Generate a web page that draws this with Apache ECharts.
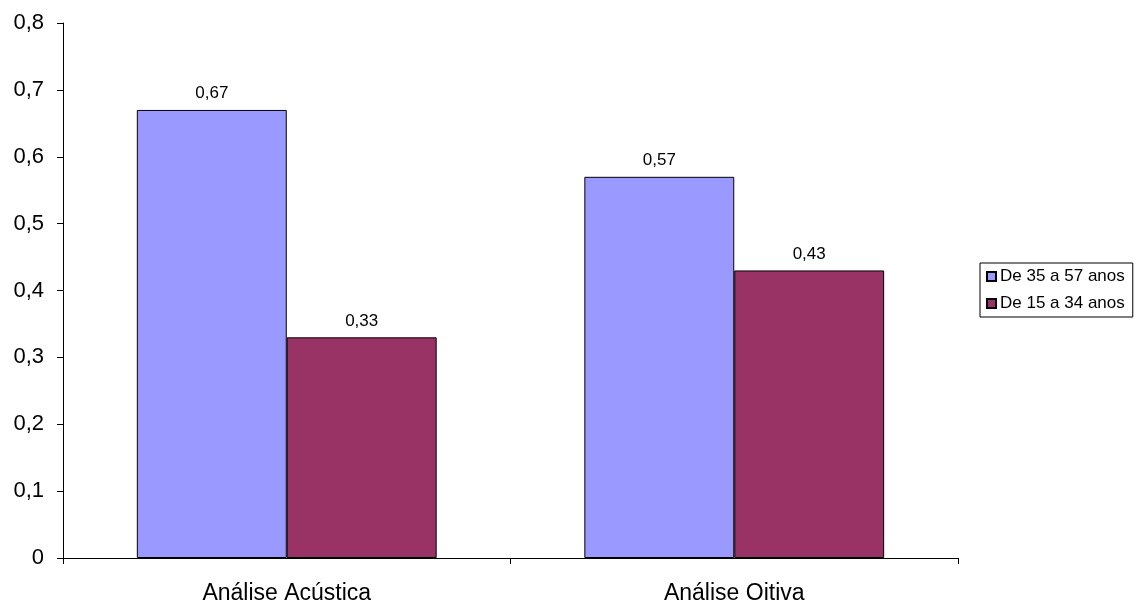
<!DOCTYPE html>
<html>
<head>
<meta charset="utf-8">
<script src="https://cdn.jsdelivr.net/npm/echarts@6/dist/echarts.min.js"></script>
<style>
  html, body { margin: 0; padding: 0; background: #ffffff; }
  #chart { width: 1142px; height: 606px; }
</style>
</head>
<body>
<div id="chart"></div>
<script>
// Categories and series values
const categories = ['Análise Acústica', 'Análise Oitiva'];
const seriesNames = ['De 35 a 57 anos', 'De 15 a 34 anos'];
const olderGroup = [0.67, 0.57];
const youngerGroup = [0.33, 0.43];
const yTicks = [0, 0.1, 0.2, 0.3, 0.4, 0.5, 0.6, 0.7, 0.8];

const fontFamily = '"Liberation Sans", Arial, sans-serif';
const fmt = v => String(v).replace('.', ',');

const chart = echarts.init(document.getElementById('chart'), null, { renderer: 'canvas' });

const barLabel = {
  show: true,
  position: 'top',
  distance: 8,
  color: '#000',
  fontFamily: fontFamily,
  fontSize: 17,
  formatter: p => fmt(p.value)
};

chart.setOption({
  animation: false,
  backgroundColor: '#ffffff',
  grid: { left: 63, right: 184, top: 23, bottom: 48, containLabel: false },
  legend: {
    orient: 'vertical',
    left: 980,
    top: 263,
    padding: [5, 8, 5, 6],
    itemGap: 10,
    itemWidth: 9,
    itemHeight: 9,
    borderColor: '#000',
    borderWidth: 1,
    textStyle: { fontFamily: fontFamily, fontSize: 17, color: '#000', padding: [0, 0, 0, -1] },
    data: seriesNames.map(n => ({ name: n, icon: 'rect' }))
  },
  xAxis: {
    type: 'category',
    data: categories,
    axisLine: { lineStyle: { color: '#000', width: 1 } },
    axisTick: { show: true, length: 6, inside: false, lineStyle: { color: '#000' } },
    axisLabel: { color: '#000', fontFamily: fontFamily, fontSize: 23, margin: 24 },
    splitLine: { show: false }
  },
  yAxis: {
    type: 'value',
    min: 0,
    max: 0.8,
    interval: 0.1,
    axisLine: { show: true, lineStyle: { color: '#000', width: 1 } },
    axisTick: { show: true, length: 6, lineStyle: { color: '#000' } },
    axisLabel: {
      color: '#000',
      fontFamily: fontFamily,
      fontSize: 22,
      margin: 19,
      formatter: v => {
        const t = yTicks.find(x => Math.abs(x - v) < 1e-9);
        return fmt(t !== undefined ? t : v);
      }
    },
    splitLine: { show: false }
  },
  series: [
    {
      name: seriesNames[0],
      type: 'bar',
      data: olderGroup,
      barGap: '0%',
      barCategoryGap: '33%',
      itemStyle: { color: '#9999FF', borderColor: '#000', borderWidth: 1 },
      label: barLabel
    },
    {
      name: seriesNames[1],
      type: 'bar',
      data: youngerGroup,
      barGap: '0%',
      barCategoryGap: '33%',
      itemStyle: { color: '#993366', borderColor: '#000', borderWidth: 1 },
      label: barLabel
    }
  ]
});
</script>
</body>
</html>
